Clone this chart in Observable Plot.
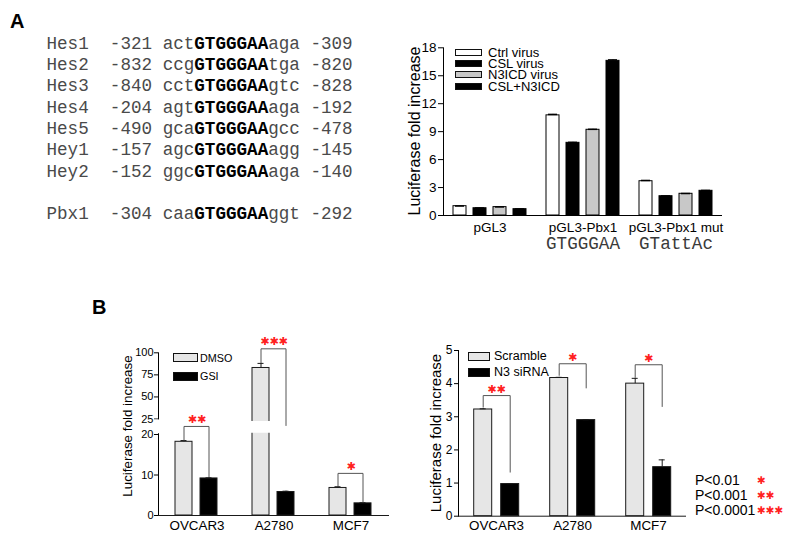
<!DOCTYPE html>
<html><head><meta charset="utf-8">
<script src="https://cdn.jsdelivr.net/npm/d3@7"></script>
<script src="https://cdn.jsdelivr.net/npm/@observablehq/plot@0.6"></script>
<style>
html,body{margin:0;padding:0;background:#fff;}
#fig{position:relative;width:794px;height:540px;overflow:hidden;font-family:"Liberation Sans",Arial,sans-serif;color:#000;}
.abs{position:absolute;}
.panel{position:absolute;font-weight:bold;font-size:20px;line-height:20px;}
.seqrow{position:absolute;font-family:"Liberation Mono","Courier New",monospace;font-size:17.6px;line-height:21px;height:21px;color:#4a4a4a;white-space:pre;}
.seqrow b{color:#000;}
.ylab{position:absolute;transform:translate(-50%,-50%) rotate(-90deg);white-space:nowrap;}
.row{position:absolute;white-space:nowrap;display:flex;align-items:center;}
.sw{display:inline-block;box-sizing:border-box;}
#chartA g[aria-label^="y-axis"] text{font-size:13.5px;}
#chartA g[aria-label^="fx-axis"] text{font-size:13.5px;}
#chartBL g[aria-label^="y-axis"] text{font-size:11px;}
#chartBL g[aria-label^="fx-axis"] text{font-size:13.4px;}
#chartBR g[aria-label^="y-axis"] text{font-size:12px;}
#chartBR g[aria-label^="fx-axis"] text{font-size:13.4px;}
</style></head><body><div id="fig"></div>
<script>
// ---------- Panel A: CSL binding sites ----------
const genes = ["Hes1", "Hes2", "Hes3", "Hes4", "Hes5", "Hey1", "Hey2", "Pbx1"];
const siteStart = [-321, -832, -840, -204, -490, -157, -152, -304];
const flank5 = ["act", "ccg", "cct", "agt", "gca", "agc", "ggc", "caa"];
const coreMotif = "GTGGGAA";
const flank3 = ["aga", "tga", "gtc", "aga", "gcc", "agg", "aga", "ggt"];
const siteEnd = [-309, -820, -828, -192, -478, -145, -140, -292];

// ---------- Panel A: luciferase chart ----------
const promoters = ["pGL3", "pGL3-Pbx1", "pGL3-Pbx1 mut"];
const promoterMotifs = ["", "GTGGGAA", "GTattAc"];
const viruses = ["Ctrl virus", "CSL virus", "N3ICD virus", "CSL+N3ICD"];
const ctrlVirus = [1.0, 10.75, 3.68];
const cslVirus = [0.78, 7.8, 2.07];
const n3icdVirus = [0.9, 9.2, 2.33];
const cslN3icd = [0.68, 16.6, 2.65];
const ctrlVirusErr = [0.02, 0.1, 0.08];
const cslVirusErr = [0.02, 0.05, 0.03];
const n3icdVirusErr = [0.02, 0.05, 0.03];
const cslN3icdErr = [0.02, 0.1, 0.04];
const yTicksA = [0, 3, 6, 9, 12, 15, 18];

// ---------- Panel B left: DMSO vs GSI ----------
const cellLines = ["OVCAR3", "A2780", "MCF7"];
const treatments = ["DMSO", "GSI"];
const dmso = [18.2, 82.8, 6.8];
const dmsoErr = [0.3, 5.2, 0.3];
const gsi = [9.15, 5.8, 3.0];
const gsiErr = [0.15, 0.2, 0.15];
const sigGSI = ["**", "***", "*"];
const bracketTopGSI = [22.6, 104.5, 10.4];
const bracketLeftGSI = [18.6, 88.6, 7.2];
const bracketRightGSI = [9.6, 22.9, 3.3];
const yTicksBL = [0, 10, 20, 25, 50, 75, 100];

// ---------- Panel B right: Scramble vs N3 siRNA ----------
const sirnas = ["Scramble", "N3 siRNA"];
const scramble = [3.22, 4.17, 4.0];
const scrambleErr = [0.02, 0.02, 0.16];
const n3sirna = [0.97, 2.9, 1.48];
const n3sirnaErr = [0.01, 0.01, 0.22];
const sigSi = ["**", "*", "*"];
const bracketTopSi = [3.64, 4.6, 4.57];
const bracketLeftSi = [3.29, 4.25, 4.19];
const bracketRightSi = [1.33, 3.87, 3.31];
const yTicksBR = [0, 1, 2, 3, 4, 5];

const pLabels = ["P<0.01", "P<0.001", "P<0.0001"];
const pStars = ["*", "**", "***"];

// ---------- helpers ----------
const fig = document.getElementById("fig");
const SANS = '"Liberation Sans", Arial, sans-serif';
const STAR = "\u2731";
const starText = s => s.replace(/\*/g, STAR);

function el(tag, cls, css, html) {
  const e = document.createElement(tag);
  if (cls) e.className = cls;
  Object.assign(e.style, css || {});
  if (html != null) e.innerHTML = html;
  fig.appendChild(e);
  return e;
}
function mkData(groups, names, vals, errs) {
  const out = [];
  groups.forEach((g, i) => names.forEach((s, j) => out.push({group: g, series: s, value: vals[j][i], err: errs[j][i]})));
  return out;
}
function mkBrackets(groups, names, tops, lefts, rights, sig) {
  const pts = [], stars = [];
  groups.forEach((g, i) => {
    pts.push({group: g, series: names[0], y: lefts[i]});
    pts.push({group: g, series: names[0], y: tops[i]});
    pts.push({group: g, series: names[1], y: tops[i]});
    pts.push({group: g, series: names[1], y: rights[i]});
    stars.push({group: g, y: tops[i], sig: sig[i]});
  });
  return {pts, stars};
}
function legend(items, o) {
  items.forEach((it, k) => {
    const h = o.rowH;
    const r = el("div", "row", {left: o.left + "px", top: (o.centers[k] - h / 2) + "px", height: h + "px", lineHeight: h + "px", fontSize: o.fontSize + "px"});
    const sw = document.createElement("span");
    sw.className = "sw";
    Object.assign(sw.style, {width: o.swW + "px", height: o.swH + "px", background: it.fill, border: "1px solid #111", marginRight: o.gap + "px"});
    r.appendChild(sw);
    r.appendChild(document.createTextNode(it.label));
  });
}
function place(chart, id, left, top, width) {
  const w = el("div", "abs", {left: left + "px", top: top + "px", width: width + "px"});
  w.id = id;
  w.appendChild(chart);
}
const svgStyle = fs => ({fontFamily: SANS, fontSize: fs + "px", background: "transparent", overflow: "visible", color: "#000"});

// ---------- Panel labels ----------
el("div", "panel", {left: "10px", top: "11px"}, "A");
el("div", "panel", {left: "92px", top: "297px"}, "B");

// ---------- Sequence table ----------
const rowCenters = genes.map((g, i) => 44.3 + 21.3 * (i < 7 ? i : i + 1));
genes.forEach((g, i) => {
  el("div", "seqrow", {left: "46.5px", top: (rowCenters[i] - 10.5) + "px"},
    `${g}  ${siteStart[i]} ${flank5[i]}<b>${coreMotif}</b>${flank3[i]} ${siteEnd[i]}`);
});

// ---------- Chart A ----------
const dataA = mkData(promoters, viruses, [ctrlVirus, cslVirus, n3icdVirus, cslN3icd], [ctrlVirusErr, cslVirusErr, n3icdVirusErr, cslN3icdErr]);
const fillA = {"Ctrl virus": "#ffffff", "CSL virus": "#000000", "N3ICD virus": "#c8c8c8", "CSL+N3ICD": "#000000"};
const motifRows = promoters.map((p, i) => ({group: p, motif: promoterMotifs[i]})).filter(d => d.motif);
const chartA = Plot.plot({
  width: 360, height: 230, marginLeft: 63, marginRight: 18, marginTop: 17.3, marginBottom: 45,
  style: svgStyle(13.5),
  fx: {domain: promoters, padding: 0, axis: "bottom", tickSize: 0, tickPadding: 7, label: null},
  x: {domain: viruses, axis: null, paddingInner: 0.35, paddingOuter: 0.5},
  y: {domain: [0, 18], ticks: yTicksA, tickFormat: d => String(d), tickSize: 5, tickPadding: 2, line: true, label: null},
  color: {type: "identity"},
  marks: [
    Plot.barY(dataA, {fx: "group", x: "series", y: "value", fill: d => fillA[d.series], stroke: "#000", strokeWidth: 1}),
    Plot.ruleX(dataA, {fx: "group", x: "series", y1: "value", y2: d => d.value + d.err, stroke: "#000"}),
    Plot.tickY(dataA, {fx: "group", x: "series", y: d => d.value + d.err, stroke: "#000", strokeWidth: 1.5, inset: 2}),
    Plot.ruleY([0], {stroke: "#000"}),
    Plot.text(motifRows, {fx: "group", text: "motif", frameAnchor: "bottom", dy: 33, fontFamily: '"Liberation Mono", "Courier New", monospace', fontSize: 17.6, fill: "#3a3a3a"})
  ]
});
place(chartA, "chartA", 380, 30, 360);
el("div", "ylab", {left: "415px", top: "131px", fontSize: "16px"}, "Luciferase fold increase");
legend(viruses.map(v => ({label: v, fill: fillA[v]})), {left: 455, centers: [52.5, 63.7, 74.9, 86.1], rowH: 11, swW: 27, swH: 7, gap: 6, fontSize: 13});

// ---------- Chart B left ----------
const breakLo = 20.4, breakHi = 24.2;
const fillB = {"DMSO": "#e6e6e6", "GSI": "#000000", "Scramble": "#e6e6e6", "N3 siRNA": "#000000"};
const dataBL = mkData(cellLines, treatments, [dmso, gsi], [dmsoErr, gsiErr]);
const brBL = mkBrackets(cellLines, treatments, bracketTopGSI, bracketLeftGSI, bracketRightGSI, sigGSI);
const chartBL = Plot.plot({
  width: 310, height: 210, marginLeft: 68, marginRight: 11, marginTop: 22.3, marginBottom: 25,
  style: svgStyle(11),
  fx: {domain: cellLines, padding: 0, axis: "bottom", tickSize: 0, tickPadding: 5, label: null},
  x: {domain: treatments, axis: null, paddingInner: 0.31, paddingOuter: 0.64},
  y: {type: "linear", domain: [0, 20, 25, 100], range: [185, 104, 88.5, 22.3], ticks: yTicksBL, tickFormat: d => String(d), tickSize: 4, tickPadding: 1, line: true, label: null, nice: false, clamp: false},
  color: {type: "identity"},
  marks: [
    Plot.barY(dataBL, {fx: "group", x: "series", y: "value", fill: d => fillB[d.series], stroke: "#1a1a1a", strokeWidth: 1}),
    Plot.ruleX(dataBL, {fx: "group", x: "series", y1: "value", y2: d => d.value + d.err, stroke: "#1a1a1a"}),
    Plot.tickY(dataBL, {fx: "group", x: "series", y: d => d.value + d.err, stroke: "#1a1a1a", inset: 5.5}),
    Plot.barY(dataBL.filter(d => d.value > breakHi), {fx: "group", x: "series", y1: breakLo, y2: breakHi, fill: "#fff", insetLeft: -2, insetRight: -2}),
    Plot.rect([{group: cellLines[0]}], {fx: "group", y1: breakLo - 0.15, y2: breakHi + 0.5, fill: "#fff", insetLeft: -4, insetRight: 72}),
    Plot.ruleY([0], {stroke: "#1a1a1a"}),
    Plot.line(brBL.pts, {fx: "group", x: "series", y: "y", z: "group", stroke: "#555", strokeWidth: 1}),
    Plot.text(brBL.stars, {fx: "group", y: "y", text: d => starText(d.sig), fill: "#ff2020", dy: -7, fontSize: 11, fontFamily: '"DejaVu Sans", sans-serif'})
  ]
});
place(chartBL, "chartBL", 90, 330, 310);
el("div", "ylab", {left: "127px", top: "426px", fontSize: "13.4px"}, "Luciferase fold increase");
legend(treatments.map(v => ({label: v, fill: fillB[v]})), {left: 173, centers: [357.7, 376], rowH: 14, swW: 25, swH: 9, gap: 2, fontSize: 10.8});

// ---------- Chart B right ----------
const dataBR = mkData(cellLines, sirnas, [scramble, n3sirna], [scrambleErr, n3sirnaErr]);
const brBR = mkBrackets(cellLines, sirnas, bracketTopSi, bracketLeftSi, bracketRightSi, sigSi);
const chartBR = Plot.plot({
  width: 300, height: 210, marginLeft: 58.3, marginRight: 13.3, marginTop: 20, marginBottom: 24.3,
  style: svgStyle(12),
  fx: {domain: cellLines, padding: 0, axis: "bottom", tickSize: 0, tickPadding: 4, label: null},
  x: {domain: sirnas, axis: null, paddingInner: 0.32, paddingOuter: 0.52},
  y: {domain: [0, 5], ticks: yTicksBR, tickFormat: d => String(d), tickSize: 4, tickPadding: 2, line: true, label: null},
  color: {type: "identity"},
  marks: [
    Plot.barY(dataBR, {fx: "group", x: "series", y: "value", fill: d => fillB[d.series], stroke: "#1a1a1a", strokeWidth: 1}),
    Plot.ruleX(dataBR, {fx: "group", x: "series", y1: "value", y2: d => d.value + d.err, stroke: "#1a1a1a"}),
    Plot.tickY(dataBR, {fx: "group", x: "series", y: d => d.value + d.err, stroke: "#1a1a1a", inset: 6}),
    Plot.ruleY([0], {stroke: "#1a1a1a"}),
    Plot.line(brBR.pts, {fx: "group", x: "series", y: "y", z: "group", stroke: "#555", strokeWidth: 1}),
    Plot.text(brBR.stars, {fx: "group", y: "y", text: d => starText(d.sig), fill: "#ff2020", dy: -6.5, fontSize: 11, fontFamily: '"DejaVu Sans", sans-serif'})
  ]
});
place(chartBR, "chartBR", 400, 330, 300);
el("div", "ylab", {left: "435px", top: "433px", fontSize: "15px"}, "Luciferase fold increase");
legend(sirnas.map(v => ({label: v, fill: fillB[v]})), {left: 468, centers: [356, 372.7], rowH: 15, swW: 22, swH: 9, gap: 4, fontSize: 12.5});

// ---------- P-value key ----------
const pCenters = [480, 495.5, 510.5];
pLabels.forEach((p, i) => {
  el("div", "row", {left: "695px", top: (pCenters[i] - 7.5) + "px", height: "15px", lineHeight: "15px", fontSize: "14px"}, p);
  el("div", "row", {left: "757px", top: (pCenters[i] - 7.5) + "px", height: "15px", lineHeight: "15px", fontSize: "10.5px", color: "#ff2020", fontFamily: '"DejaVu Sans", sans-serif'}, starText(pStars[i]));
});
</script></body></html>
